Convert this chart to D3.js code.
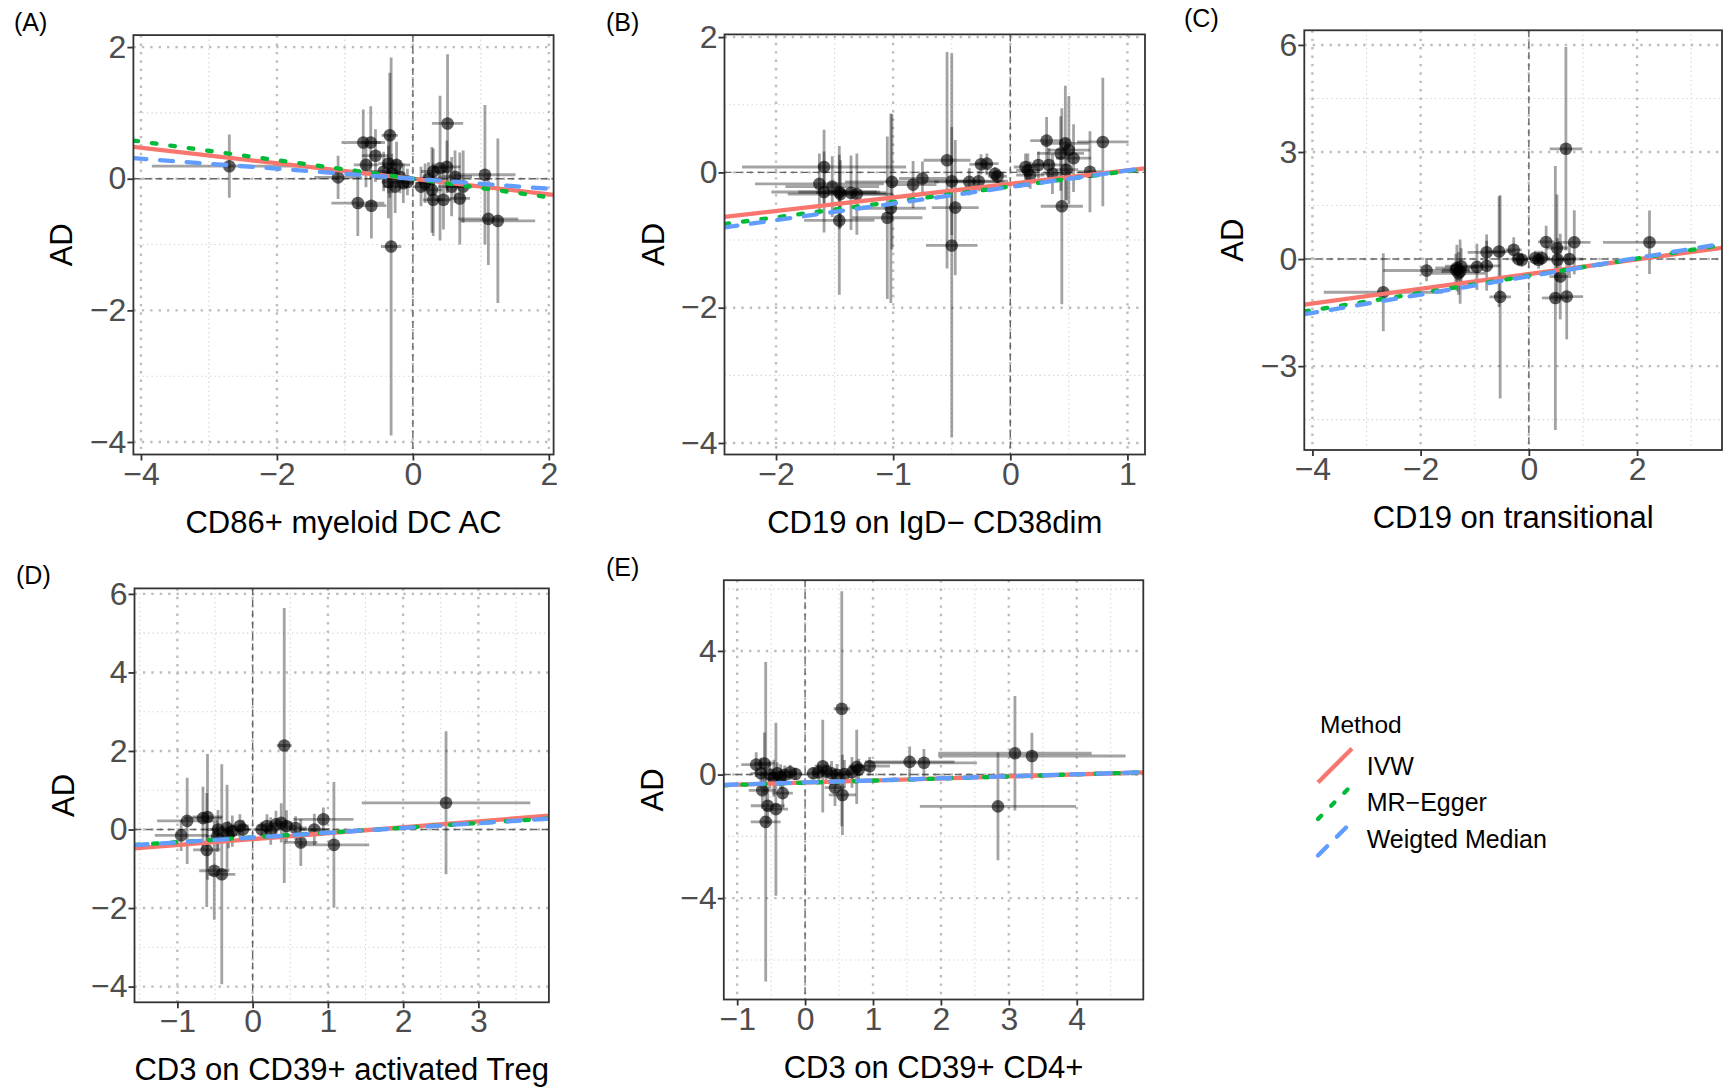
<!DOCTYPE html>
<html>
<head>
<meta charset="utf-8">
<script src="https://cdn.jsdelivr.net/npm/d3@7"></script>
<style>
  body { margin: 0; background: #fff; }
  svg { display: block; font-family: "Liberation Sans", Arial, Helvetica, sans-serif; }
</style>
</head>
<body>
<svg id="chart" width="1724" height="1088"></svg>
<script>
// SNP effects: [beta exposure, beta outcome, se exposure, se outcome]
const snpA = [
  [-2.70, 0.19, 1.14, 0.48], [-1.10, 0.02, 0.35, 0.33], [-0.81, -0.37, 0.39, 0.50],
  [-0.61, -0.41, 0.22, 0.50], [-0.73, 0.55, 0.32, 0.50], [-0.62, 0.55, 0.15, 0.55],
  [-0.55, 0.35, 0.20, 0.40], [-0.69, 0.21, 0.18, 0.34], [-0.34, 0.66, 0.12, 0.95],
  [-0.32, -1.03, 0.15, 2.87], [-0.36, 0.23, 0.15, 0.45], [-0.24, 0.21, 0.20, 0.35],
  [-0.31, 0.08, 0.12, 0.30], [-0.19, 0.03, 0.15, 0.25], [-0.36, -0.05, 0.10, 0.55],
  [-0.14, -0.07, 0.12, 0.30], [-0.26, -0.12, 0.18, 0.40], [-0.43, 0.11, 0.25, 0.30],
  [0.23, 0.00, 0.20, 0.25], [0.18, -0.07, 0.15, 0.30], [0.30, 0.11, 0.18, 0.35],
  [0.40, 0.16, 0.12, 1.10], [0.50, 0.18, 0.20, 0.40], [0.28, -0.17, 0.15, 0.65],
  [0.30, -0.32, 0.15, 0.55], [0.45, -0.32, 0.12, 0.45], [0.62, 0.03, 0.25, 0.40],
  [0.69, -0.30, 0.15, 0.70], [0.74, -0.12, 0.25, 0.55], [0.57, -0.12, 0.20, 0.45],
  [0.51, 0.84, 0.23, 1.05], [1.06, 0.06, 0.45, 1.06], [1.11, -0.61, 0.44, 0.70],
  [1.25, -0.64, 0.55, 1.25], [-0.08, -0.05, 0.10, 0.20], [0.12, -0.12, 0.12, 0.30]
];
const snpB = [
  [-1.59, 0.08, 0.70, 0.55], [-1.63, -0.17, 0.55, 0.45], [-1.59, -0.29, 0.45, 0.60],
  [-1.52, -0.21, 0.40, 0.45], [-1.46, -0.29, 0.35, 0.55], [-1.45, -0.32, 0.45, 0.50],
  [-1.36, -0.30, 0.30, 0.55], [-1.31, -0.32, 0.25, 0.60], [-1.46, -0.71, 0.30, 1.10],
  [-1.01, -0.14, 0.40, 1.00], [-1.02, -0.53, 0.30, 1.40], [-1.05, -0.67, 0.30, 1.20],
  [-0.83, -0.18, 0.20, 0.35], [-0.75, -0.09, 0.20, 0.25], [-0.54, 0.18, 0.20, 1.60],
  [-0.50, -0.13, 0.25, 0.80], [-0.47, -0.52, 0.20, 1.00], [-0.50, -1.08, 0.22, 2.84],
  [-0.35, -0.14, 0.30, 0.20], [-0.27, -0.13, 0.25, 0.15], [-0.25, 0.12, 0.10, 0.15],
  [-0.20, 0.13, 0.10, 0.15], [-0.13, -0.02, 0.08, 0.10], [-0.11, -0.06, 0.08, 0.10],
  [0.13, 0.08, 0.10, 0.20], [0.15, 0.03, 0.10, 0.25], [0.17, -0.04, 0.12, 0.20],
  [0.24, 0.11, 0.10, 0.20], [0.33, 0.11, 0.15, 0.25], [0.36, -0.02, 0.10, 0.30],
  [0.31, 0.47, 0.14, 0.35], [0.43, 0.28, 0.20, 0.55], [0.47, 0.43, 0.20, 0.85],
  [0.50, 0.33, 0.18, 0.80], [0.54, 0.21, 0.15, 0.50], [0.48, 0.04, 0.10, 0.45],
  [0.44, -0.50, 0.18, 1.45], [0.68, 0.01, 0.10, 0.60], [0.79, 0.45, 0.22, 0.95]
];
const snpC = [
  [-2.69, -0.93, 1.10, 1.09], [-1.89, -0.32, 0.80, 0.30], [-1.33, -0.25, 0.40, 0.65],
  [-1.27, -0.35, 0.35, 0.90], [-1.30, -0.40, 0.50, 0.60], [-1.25, -0.20, 0.30, 0.50],
  [-1.35, -0.30, 0.25, 0.45], [-0.96, -0.22, 0.30, 0.65], [-0.78, -0.19, 0.25, 0.70],
  [-0.78, 0.19, 0.35, 0.50], [-0.55, 0.21, 0.25, 1.55], [-0.28, 0.26, 0.15, 0.35],
  [-0.53, -1.06, 0.20, 2.85], [-0.19, 0.00, 0.15, 0.20], [-0.13, -0.02, 0.12, 0.20],
  [0.12, 0.03, 0.15, 0.20], [0.18, -0.02, 0.15, 0.25], [0.24, 0.03, 0.15, 0.20],
  [0.32, 0.48, 0.15, 0.45], [0.52, 0.31, 0.20, 1.50], [0.53, -0.02, 0.20, 0.60],
  [0.58, -0.49, 0.20, 1.20], [0.75, 0.00, 0.25, 0.45], [0.84, 0.47, 0.30, 0.90],
  [0.49, -1.09, 0.25, 3.70], [0.70, -1.05, 0.30, 1.20], [2.23, 0.47, 0.86, 0.89],
  [0.685, 3.09, 0.30, 2.85]
];
const snpD = [
  [-0.87, 0.22, 0.40, 1.10], [-0.95, -0.15, 0.35, 0.40], [-0.66, 0.29, 0.25, 0.80],
  [-0.60, 0.32, 0.20, 1.60], [-0.61, -0.52, 0.18, 1.45], [-0.51, -1.05, 0.20, 1.25],
  [-0.41, -1.14, 0.18, 2.80], [-0.46, 0.00, 0.15, 0.50], [-0.34, 0.04, 0.15, 1.10],
  [-0.27, -0.04, 0.12, 0.40], [-0.17, 0.09, 0.12, 0.30], [-0.13, 0.00, 0.10, 0.25],
  [-0.32, -0.13, 0.15, 0.35], [-0.47, -0.17, 0.15, 0.40], [0.12, 0.00, 0.10, 0.20],
  [0.19, 0.09, 0.12, 0.30], [0.31, 0.13, 0.15, 0.35], [0.38, 0.17, 0.15, 0.50],
  [0.45, 0.09, 0.12, 0.40], [0.57, 0.04, 0.15, 0.30], [0.24, -0.04, 0.10, 0.35],
  [0.42, 2.14, 0.10, 3.50], [0.64, -0.33, 0.22, 0.60], [0.82, 0.00, 0.20, 0.40],
  [0.94, 0.26, 0.40, 0.30], [1.08, -0.39, 0.47, 1.60], [2.57, 0.68, 1.12, 1.82]
];
const snpE = [
  [-0.72, 0.32, 0.22, 0.40], [-0.60, 0.36, 0.15, 1.00], [-0.63, -0.51, 0.20, 0.60],
  [-0.55, -1.01, 0.25, 0.60], [-0.43, -1.12, 0.18, 2.80], [-0.58, -1.53, 0.22, 5.17],
  [-0.65, 0.04, 0.15, 0.50], [-0.52, 0.00, 0.15, 0.45], [-0.41, 0.04, 0.12, 0.35],
  [-0.30, -0.01, 0.12, 0.30], [-0.22, 0.07, 0.10, 0.25], [-0.14, 0.02, 0.10, 0.20],
  [-0.46, -0.12, 0.12, 0.60], [-0.36, -0.07, 0.10, 0.40], [-0.33, -0.60, 0.15, 0.50],
  [0.12, 0.04, 0.10, 0.20], [0.20, 0.07, 0.10, 0.25], [0.31, 0.10, 0.12, 0.30],
  [0.39, 0.04, 0.15, 0.40], [0.47, -0.01, 0.12, 0.35], [0.58, 0.02, 0.15, 0.45],
  [0.69, 0.07, 0.12, 0.50], [0.79, 0.16, 0.15, 0.35], [0.76, 0.25, 0.12, 1.20],
  [0.54, 2.13, 0.12, 3.80], [0.55, -0.66, 0.20, 1.30], [0.44, -0.42, 0.15, 0.60],
  [0.26, 0.27, 0.12, 1.50], [0.95, 0.27, 0.30, 0.30], [1.54, 0.41, 0.66, 0.50],
  [1.75, 0.38, 0.78, 0.45], [2.84, -1.03, 1.15, 1.74], [3.09, 0.69, 1.13, 1.85],
  [3.34, 0.60, 1.38, 0.75]
];

// MR estimates per method: [slope, intercept]
const methods = ['IVW', 'MR\u2212Egger', 'Weigted Median'];
const fitA = [[-0.118, 0], [-0.141, 0], [-0.076, 0]];
const fitB = [[0.200, -0.170], [0.227, -0.209], [0.245, -0.216]];
const fitC = [[0.206, -0.420], [0.241, -0.468], [0.256, -0.483]];
const fitD = [[0.151, -0.244], [0.122, -0.200], [0.122, -0.205]];
const fitE = [[0.066, -0.260], [0.068, -0.265], [0.066, -0.255]];

const tags = ['(A)', '(B)', '(C)', '(D)', '(E)'];
const exposures = ['CD86+ myeloid DC AC', 'CD19 on IgD\u2212 CD38dim', 'CD19 on transitional',
  'CD3 on CD39+ activated Treg', 'CD3 on CD39+ CD4+'];
const outcome = 'AD';
const xDomains = [[-4.111, 2.07], [-2.44, 1.15], [-4.15, 3.57], [-1.57, 3.937], [-1.197, 4.98]];
const yDomains = [[-4.19, 2.182], [-4.17, 2.04], [-5.35, 6.41], [-4.40, 6.14], [-7.28, 6.29]];
const xBreaks = [[-4, -2, 0, 2], [-2, -1, 0, 1], [-4, -2, 0, 2], [-1, 0, 1, 2, 3], [-1, 0, 1, 2, 3, 4]];
const yBreaks = [[-4, -2, 0, 2], [-4, -2, 0, 2], [-3, 0, 3, 6], [-4, -2, 0, 2, 4, 6], [-4, 0, 4]];

// ---- layout ----
const boxes = [
  { l: 133.4, t: 35.1, r: 553.6, b: 454.5 },
  { l: 724.5, t: 34.4, r: 1145, b: 454.5 },
  { l: 1304.3, t: 30.3, r: 1722, b: 450 },
  { l: 134.5, t: 588.4, r: 548.9, b: 1002.3 },
  { l: 723.8, t: 580.2, r: 1143.3, b: 999.5 }
];
const tagPos = [[14, 31], [606, 31], [1184, 27], [16, 584], [606, 576]];

const colors = ['#F8766D', '#00BA38', '#619CFF'];
const dashes = [null, '4.6,14', '13,13.7'];
const lineW = 4.3;

const svg = d3.select('#chart');
const fmt = d3.format('d');

function minorBreaks(breaks, domain) {
  const step = breaks[1] - breaks[0];
  const out = [];
  for (let v = breaks[0] - step / 2; v <= domain[1]; v += step) {
    if (v >= domain[0] && v <= domain[1]) out.push(v);
  }
  return out;
}

function styleFit(sel) {
  sel.attr('stroke', (d, k) => colors[k])
    .attr('stroke-width', lineW)
    .attr('stroke-linecap', (d, k) => k === 0 ? 'butt' : 'round')
    .attr('stroke-dasharray', (d, k) => dashes[k]);
}

function drawPanel(i, snps, fits) {
  const bx = boxes[i];
  const x = d3.scaleLinear().domain(xDomains[i]).range([bx.l, bx.r]);
  const y = d3.scaleLinear().domain(yDomains[i]).range([bx.b, bx.t]);
  const g = svg.append('g');

  g.append('clipPath').attr('id', `clip${i}`)
    .append('rect')
    .attr('x', bx.l).attr('y', bx.t)
    .attr('width', bx.r - bx.l).attr('height', bx.b - bx.t);

  // grid: minor then major, both dotted
  const grid = g.append('g');
  const xMin = minorBreaks(xBreaks[i], xDomains[i]);
  const yMin = minorBreaks(yBreaks[i], yDomains[i]);
  const gridStyle = (sel, w, col, dash) => sel
    .attr('stroke', col).attr('stroke-width', w).attr('stroke-dasharray', dash);

  grid.selectAll('.vmin').data(xMin).join('line')
    .attr('x1', d => x(d)).attr('x2', d => x(d)).attr('y1', bx.t).attr('y2', bx.b)
    .call(gridStyle, 1.1, '#d2d2d2', '1.3,3.2');
  grid.selectAll('.hmin').data(yMin).join('line')
    .attr('y1', d => y(d)).attr('y2', d => y(d)).attr('x1', bx.l).attr('x2', bx.r)
    .call(gridStyle, 1.1, '#d2d2d2', '1.3,3.2');
  grid.selectAll('.vmaj').data(xBreaks[i]).join('line')
    .attr('x1', d => x(d)).attr('x2', d => x(d)).attr('y1', bx.t).attr('y2', bx.b)
    .call(gridStyle, 2.4, '#bdbdbd', '2.4,6');
  grid.selectAll('.hmaj').data(yBreaks[i]).join('line')
    .attr('y1', d => y(d)).attr('y2', d => y(d)).attr('x1', bx.l).attr('x2', bx.r)
    .call(gridStyle, 2.4, '#bdbdbd', '2.4,6');

  const plot = g.append('g').attr('clip-path', `url(#clip${i})`);

  // zero reference lines
  plot.append('line')
    .attr('x1', bx.l).attr('x2', bx.r).attr('y1', y(0)).attr('y2', y(0))
    .attr('stroke', '#666').attr('stroke-width', 1.4).attr('stroke-dasharray', '7,4');
  plot.append('line')
    .attr('x1', x(0)).attr('x2', x(0)).attr('y1', bx.t).attr('y2', bx.b)
    .attr('stroke', '#666').attr('stroke-width', 1.4).attr('stroke-dasharray', '7,4');

  // error bars
  plot.append('g').selectAll('line').data(snps).join('line')
    .attr('x1', d => x(d[0])).attr('x2', d => x(d[0]))
    .attr('y1', d => y(d[1] - d[3])).attr('y2', d => y(d[1] + d[3]))
    .attr('stroke', '#000').attr('stroke-opacity', 0.36).attr('stroke-width', 2.8);
  plot.append('g').selectAll('line').data(snps).join('line')
    .attr('x1', d => x(d[0] - d[2])).attr('x2', d => x(d[0] + d[2]))
    .attr('y1', d => y(d[1])).attr('y2', d => y(d[1]))
    .attr('stroke', '#000').attr('stroke-opacity', 0.36).attr('stroke-width', 2.8);

  // points
  plot.append('g').selectAll('circle').data(snps).join('circle')
    .attr('cx', d => x(d[0])).attr('cy', d => y(d[1])).attr('r', 6.3)
    .attr('fill', '#000').attr('fill-opacity', 0.62);

  // MR fit lines across the whole panel
  const [x0, x1] = xDomains[i];
  plot.append('g').selectAll('line').data(fits).join('line')
    .attr('x1', x(x0)).attr('x2', x(x1))
    .attr('y1', d => y(d[1] + d[0] * x0)).attr('y2', d => y(d[1] + d[0] * x1))
    .call(styleFit);

  // panel border
  g.append('rect')
    .attr('x', bx.l).attr('y', bx.t)
    .attr('width', bx.r - bx.l).attr('height', bx.b - bx.t)
    .attr('fill', 'none').attr('stroke', '#333').attr('stroke-width', 1.8);

  // axes
  const ax = g.append('g').attr('transform', `translate(0,${bx.b})`)
    .call(d3.axisBottom(x).tickValues(xBreaks[i]).tickFormat(fmt).tickSize(6).tickSizeOuter(0).tickPadding(1.3));
  const ay = g.append('g').attr('transform', `translate(${bx.l},0)`)
    .call(d3.axisLeft(y).tickValues(yBreaks[i]).tickFormat(fmt).tickSize(6).tickSizeOuter(0).tickPadding(1));
  [ax, ay].forEach(a => {
    a.select('.domain').remove();
    a.selectAll('.tick line').attr('stroke', '#333').attr('stroke-width', 1.8);
    a.selectAll('.tick text')
      .attr('fill', '#4d4d4d')
      .style('font-size', '32px')
      .style('font-family', '"Liberation Sans", Arial, sans-serif');
  });

  // axis titles
  g.append('text')
    .attr('x', (bx.l + bx.r) / 2).attr('y', bx.b + 78)
    .attr('text-anchor', 'middle')
    .style('font-size', '31px').attr('fill', '#000')
    .text(exposures[i]);
  g.append('text')
    .attr('transform', `translate(${bx.l - 61},${(bx.t + bx.b) / 2}) rotate(-90)`)
    .attr('text-anchor', 'middle')
    .style('font-size', '31px').attr('fill', '#000')
    .text(outcome);

  // panel tag
  g.append('text')
    .attr('x', tagPos[i][0]).attr('y', tagPos[i][1])
    .style('font-size', '25px').attr('fill', '#000')
    .text(tags[i]);
}

drawPanel(0, snpA, fitA);
drawPanel(1, snpB, fitB);
drawPanel(2, snpC, fitC);
drawPanel(3, snpD, fitD);
drawPanel(4, snpE, fitE);

// legend
const legend = svg.append('g').attr('transform', 'translate(1318,733)');
legend.append('text')
  .attr('x', 2).attr('y', 0)
  .style('font-size', '24.5px').attr('fill', '#000')
  .text('Method');

const keyY = d3.scalePoint().domain(methods).range([32.5, 105.5]);
const item = legend.selectAll('.item').data(methods).join('g')
  .attr('transform', d => `translate(0,${keyY(d)})`);
item.append('line')
  .attr('x1', 0).attr('y1', 17).attr('x2', 34).attr('y2', -17)
  .call(styleFit);
item.append('text')
  .attr('x', 48.7).attr('y', 9)
  .style('font-size', '25px').attr('fill', '#000')
  .text(d => d);
</script>
</body>
</html>
